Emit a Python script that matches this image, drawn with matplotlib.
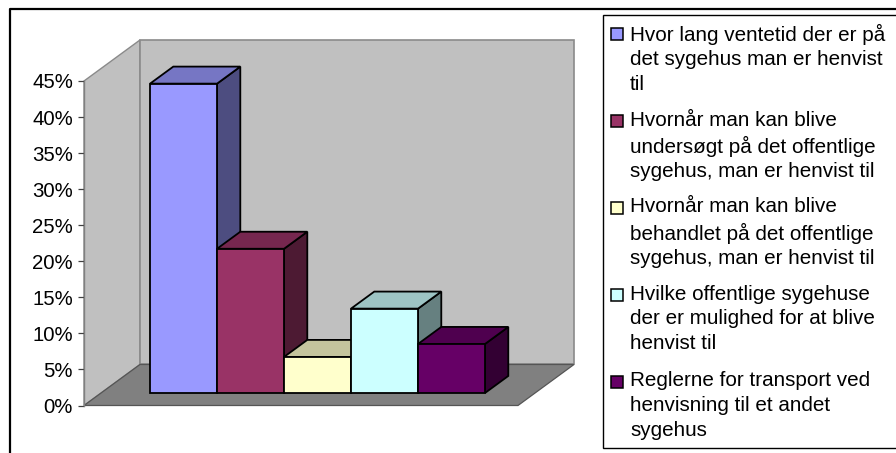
import matplotlib
matplotlib.use("Agg")
import matplotlib.pyplot as plt
from matplotlib.patches import Polygon, Rectangle
from matplotlib.colors import to_rgb
from matplotlib.transforms import Affine2D

plt.rcParams['font.family'] = ['Liberation Sans', 'DejaVu Sans']

W, H = 896, 453

values = [42.9, 20, 5, 11.7, 6.8]
colors = ['#9999FF', '#993366', '#FFFFCC', '#CCFFFF', '#660066']
labels = [
    'Hvor lang ventetid der er på\ndet sygehus man er henvist\ntil',
    'Hvornår man kan blive\nundersøgt på det offentlige\nsygehus, man er henvist til',
    'Hvornår man kan blive\nbehandlet på det offentlige\nsygehus, man er henvist til',
    'Hvilke offentlige sygehuse\nder er mulighed for at blive\nhenvist til',
    'Reglerne for transport ved\nhenvisning til et andet\nsygehus',
]
yticks = [0, 5, 10, 15, 20, 25, 30, 35, 40, 45]

# oblique projection, in axis units
DX, DY = 0.836, 5.69
X0, X1 = -0.731, 5.747
Y0, Y1 = 0, 45
D_FRONT, D_BACK = 0.305, 0.72


def p(x, y, d=0.0):
    return (x + d * DX, y + d * DY)


def shade(c, f):
    return tuple(v * f for v in to_rgb(c))


fig = plt.figure(figsize=(W / 100, H / 100), dpi=100, facecolor='white')
px = Affine2D().scale(1 / W, -1 / H).translate(0, 1) + fig.transFigure

ax = fig.add_axes([84 / W, 1 - 405.5 / H, (518 - 84) / W, (405.5 - 81) / H])
ax.set_xlim(X0, X1)
ax.set_ylim(Y0, Y1)
ax.patch.set_visible(False)
for s in ['top', 'right', 'bottom']:
    ax.spines[s].set_visible(False)
ax.spines['left'].set_color('#808080')
ax.spines['left'].set_linewidth(1.0)
ax.set_xticks([])
ax.set_yticks(yticks)
ax.set_yticklabels([f'{v}%' for v in yticks], fontsize=14.7, color='black')
ax.tick_params(axis='y', length=4, width=0.9, color='#404040', pad=4)


def face(pts, color, edge='black', lw=1.3, z=2):
    ax.add_patch(Polygon(pts, closed=True, facecolor=color, edgecolor=edge,
                         linewidth=lw, joinstyle='miter', clip_on=False, zorder=z))


# walls and floor
wall = '#C0C0C0'
face([p(X0, Y0), p(X0, Y0, 1), p(X0, Y1, 1), p(X0, Y1)], wall, '#8A8A8A', 1.0, 1)
face([p(X0, Y0, 1), p(X1, Y0, 1), p(X1, Y1, 1), p(X0, Y1, 1)], wall, '#8A8A8A', 1.2, 1)
face([p(X0, Y0), p(X1, Y0), p(X1, Y0, 1), p(X0, Y0, 1)], '#808080', '#555555', 0.9, 1)

# bars, left to right so the later ones cover the earlier sides
for i, (v, c) in enumerate(zip(values, colors)):
    l, r = i, i + 1
    face([p(r, 0, D_FRONT), p(r, 0, D_BACK), p(r, v, D_BACK), p(r, v, D_FRONT)],
         shade(c, 0.5), z=3 + i)
    face([p(l, v, D_FRONT), p(r, v, D_FRONT), p(r, v, D_BACK), p(l, v, D_BACK)],
         shade(c, 0.77), z=3 + i)
    face([p(l, 0, D_FRONT), p(r, 0, D_FRONT), p(r, v, D_FRONT), p(l, v, D_FRONT)],
         c, z=3 + i)

# outer frame, only left and top are inside the picture
fig.add_artist(plt.Line2D([896, 10, 10], [8.5, 8.5, 453], transform=px,
                          color='black', linewidth=1.6))

# legend box
fig.add_artist(Rectangle((602.5, 15), 300, 433, transform=px, facecolor='white',
                         edgecolor='black', linewidth=1.0))
for i, (lab, c) in enumerate(zip(labels, colors)):
    top = 23.5 + i * 87
    fig.add_artist(Rectangle((611, top + 4), 12, 12, transform=px,
                             facecolor=c, edgecolor='black', linewidth=1.1))
    fig.text(630 / W, 1 - top / H, lab, fontsize=14.9, va='top', ha='left',
             linespacing=1.37, color='black')

fig.savefig('out.png', dpi=100)
